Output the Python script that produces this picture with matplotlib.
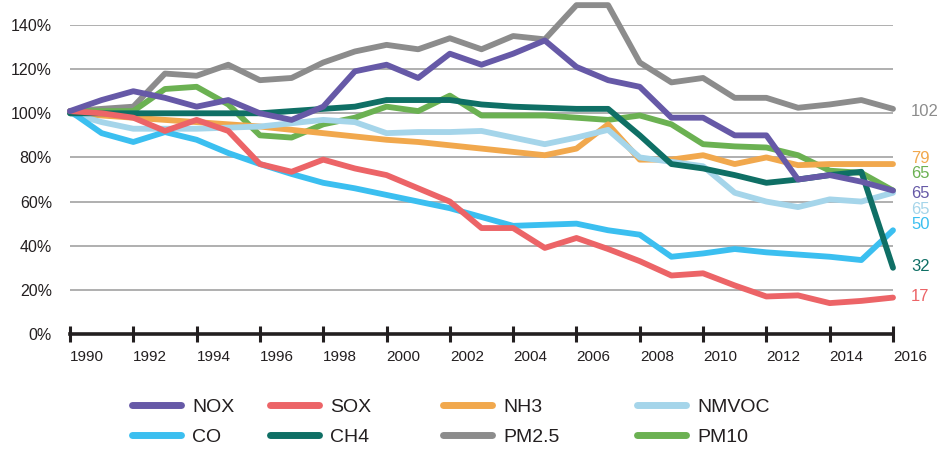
import matplotlib
matplotlib.use("Agg")
import matplotlib.pyplot as plt

years = list(range(1990, 2017))

nox = [101, 106, 110, 107, 103, 106, 100, 97, 103, 119, 122, 116, 127, 122, 127, 133,
       121, 115, 112, 98, 98, 90, 90, 70, 72, 69, 65]
sox = [101, 100, 98, 92, 97, 92, 77, 73.5, 79, 75, 72, 66, 60, 48, 48, 39,
       43.5, 38.5, 33, 26.5, 27.5, 22, 17, 17.5, 14, 15, 16.5]
nh3 = [100, 99, 98, 97, 96, 95, 94, 92.5, 91, 89.5, 88, 87, 85.5, 84, 82.5, 81,
       84, 95, 79, 79, 81, 77, 80, 76.5, 77, 77, 77]
nmvoc = [100, 96, 93, 93, 93, 93.5, 94, 95.5, 97, 96, 91, 91.5, 91.5, 92, 89, 86,
         89, 92.5, 80, 78, 76, 64, 60, 57.5, 61, 60, 64]
co = [101, 91, 87, 91.5, 88, 82, 77, 72.5, 68.5, 66, 63, 60, 57, 53, 49, 49.5,
      50, 47, 45, 35, 36.5, 38.5, 37, 36, 35, 33.5, 47]
ch4 = [100, 100, 100, 100, 100, 100, 100, 101, 102, 103, 106, 106, 106, 104, 103, 102.5,
       102, 102, 90, 77, 75, 72, 68.5, 70, 72, 73.5, 30]
pm25 = [101, 102, 103, 118, 117, 122, 115, 116, 123, 128, 131, 129, 134, 129, 135, 133.5,
        149, 149, 123, 114, 116, 107, 107, 102.5, 104, 106, 102]
pm10 = [101, 101, 101, 111, 112, 104, 90, 89, 95, 98, 103, 101, 108, 99, 99, 99,
        98, 97, 99, 95, 86, 85, 84.5, 81, 74, 73, 65]

end_labels = ["102", "79", "65", "65", "65", "50", "32", "17"]
end_label_y = [101, 79.5, 72.5, 63.5, 56.5, 49.5, 30.5, 17]
end_label_series = ["PM2.5", "NH3", "PM10", "NOX", "NMVOC", "CO", "CH4", "SOX"]

colors = {
    "NOX": "#6659a7",
    "SOX": "#ec6467",
    "NH3": "#f1a84d",
    "NMVOC": "#a5d5ea",
    "CO": "#3bbff0",
    "CH4": "#0f6f65",
    "PM2.5": "#8c8c8c",
    "PM10": "#6bb152",
}
series = {"NOX": nox, "SOX": sox, "NH3": nh3, "NMVOC": nmvoc,
          "CO": co, "CH4": ch4, "PM2.5": pm25, "PM10": pm10}
draw_order = ["PM2.5", "PM10", "NH3", "NMVOC", "CO", "CH4", "SOX", "NOX"]

# legend columns, as in the original (two rows, four columns)
legend_cols = [["NOX", "CO"], ["SOX", "CH4"], ["NH3", "PM2.5"], ["NMVOC", "PM10"]]
legend_x = [132, 270, 443, 637]

plt.rcParams["font.family"] = ["Liberation Sans", "DejaVu Sans"]
ink = "#231f20"

fig = plt.figure(figsize=(9.41, 4.49), dpi=100)
ax = fig.add_axes([70 / 941, 1 - 334 / 449, (893 - 70) / 941, (334 - 25) / 449])

handles = {}
for k in draw_order:
    ln, = ax.plot(years, series[k], color=colors[k], lw=4.2, solid_capstyle="round",
                  clip_on=False, label=k, zorder=3)
    handles[k] = ln

ax.set_xlim(1990, 2016)
ax.set_ylim(0, 140)
ax.set_yticks(range(0, 141, 20))
ax.set_yticklabels([f"{v}%" for v in range(0, 141, 20)], fontsize=11.5, color=ink)
ax.tick_params(axis="y", length=0, pad=13)
ax.grid(axis="y", color="#9a9a9a", lw=1.1)
ax.set_axisbelow(True)

ax.set_xticks(range(1990, 2017, 2))
ax.set_xticklabels([str(y) for y in range(1990, 2017, 2)], fontsize=11, ha="left", color=ink)
ax.tick_params(axis="x", direction="inout", length=11, width=2.2, color=ink, pad=6)
for s in ["top", "right", "left"]:
    ax.spines[s].set_visible(False)
ax.spines["bottom"].set_linewidth(2.6)
ax.spines["bottom"].set_color(ink)
ax.spines["bottom"].set_zorder(5)

for txt, yv, k in zip(end_labels, end_label_y, end_label_series):
    ax.annotate(txt, xy=(2016, yv), xytext=(13, 0), textcoords="offset points",
                color=colors[k], fontsize=12, va="center", ha="left", annotation_clip=False)

for col, x0 in zip(legend_cols, legend_x):
    leg = fig.legend([handles[k] for k in col], col, loc="upper left",
                     bbox_to_anchor=(x0 / 941, 1 - 398 / 449), frameon=False,
                     fontsize=14, handlelength=2.5, handletextpad=0.6,
                     labelspacing=0.65, borderpad=0, borderaxespad=0)
    for t in leg.get_texts():
        t.set_color(ink)
    for h in leg.legend_handles:
        h.set_linewidth(5)
        h.set_solid_capstyle("round")

fig.savefig("out.png", dpi=100)
